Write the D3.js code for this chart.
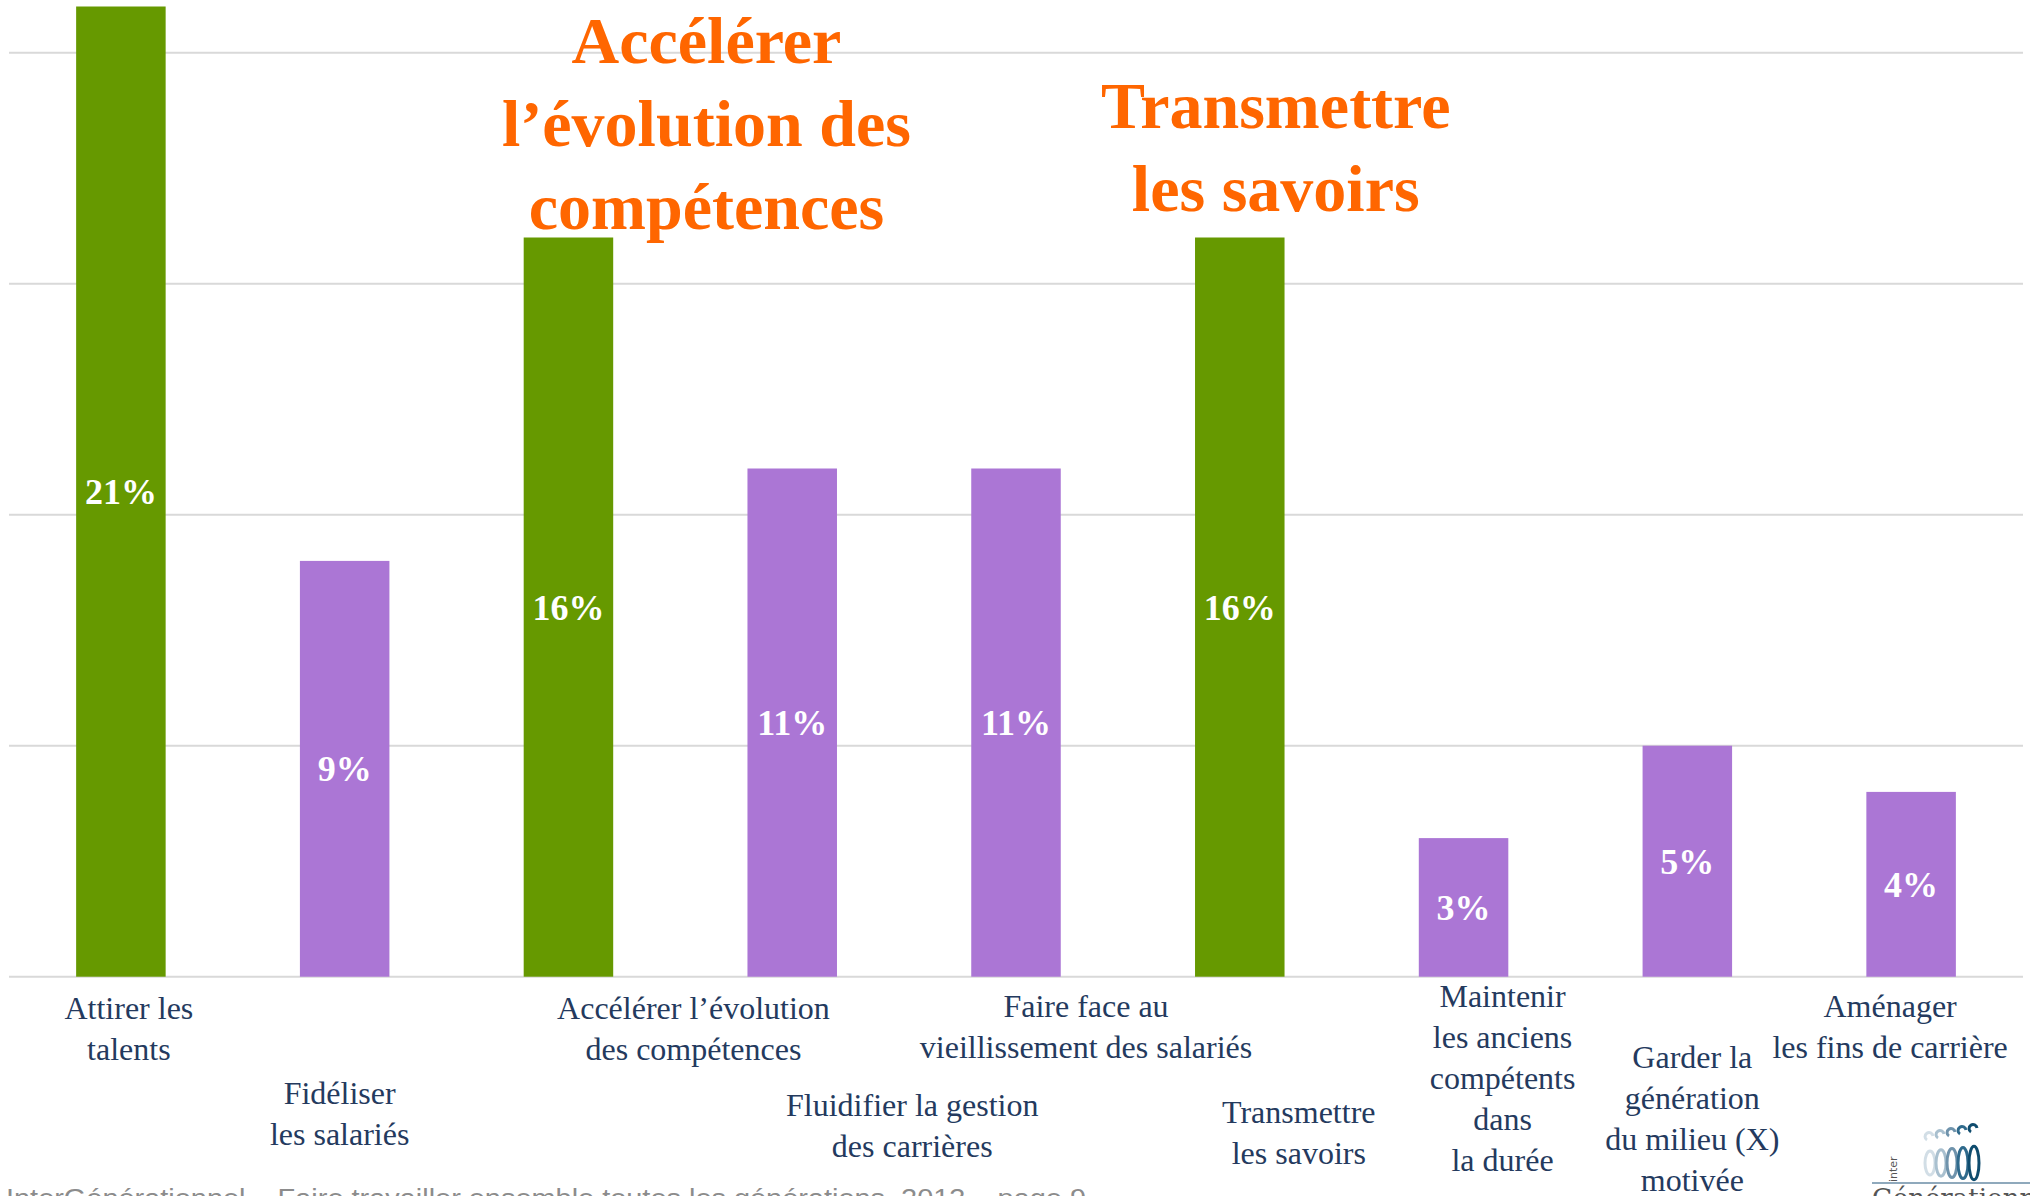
<!DOCTYPE html>
<html>
<head>
<meta charset="utf-8">
<script src="https://cdn.jsdelivr.net/npm/d3@7"></script>
<style>
  body { margin: 0; background: #fff; }
  svg { display: block; }
</style>
</head>
<body>
<div id="chart-root"></div>
<script>
// Data
const categories = [
  "Attirer les talents",
  "Fidéliser les salariés",
  "Accélérer l’évolution des compétences",
  "Fluidifier la gestion des carrières",
  "Faire face au vieillissement des salariés",
  "Transmettre les savoirs",
  "Maintenir les anciens compétents dans la durée",
  "Garder la génération du milieu (X) motivée",
  "Aménager les fins de carrière",
]
const values = [21, 9, 16, 11, 11, 16, 3, 5, 4]
const labelLines = [
  ["Attirer les", "talents"],
  ["Fidéliser", "les salariés"],
  ["Accélérer l’évolution", "des compétences"],
  ["Fluidifier la gestion", "des carrières"],
  ["Faire face au", "vieillissement des salariés"],
  ["Transmettre", "les savoirs"],
  ["Maintenir", "les anciens", "compétents", "dans", "la durée"],
  ["Garder la", "génération", "du milieu (X)", "motivée"],
  ["Aménager", "les fins de carrière"],
]
const highlighted = [
  "Attirer les talents",
  "Accélérer l’évolution des compétences",
  "Transmettre les savoirs",
]
const gridTicks = [0, 5, 10, 15, 20]
const callouts = [
  {category: "Accélérer l’évolution des compétences", lines: ["Accélérer", "l’évolution des", "compétences"]},
  {category: "Transmettre les savoirs", lines: ["Transmettre", "les savoirs"]},
]
const footerText = "InterGénérationnel – Faire travailler ensemble toutes les générations, 2013 – page 9"

// Layout of the staggered category labels (offset from bar centre, first baseline)
const labelLayout = [
  {dx: 8, y: 1019}, {dx: -5, y: 1104}, {dx: 125, y: 1019},
  {dx: 120, y: 1116}, {dx: 70, y: 1017}, {dx: 59, y: 1123},
  {dx: 39, y: 1007}, {dx: 5, y: 1068}, {dx: -21, y: 1017},
]
const calloutLayout = [{dx: 138, y: 63}, {dx: 36, y: 128}]

const width = 2030, height = 1196
const green = "#669900", purple = "#AB76D5", orange = "#FF6600", navy = "#243A5E"

const svg = d3.select("#chart-root")
  .append("svg")
    .attr("width", width)
    .attr("height", height)

// Scales
const x = d3.scaleBand()
  .domain(categories)
  .range([9, 2023])
  .paddingInner(0.6)
  .paddingOuter(0.3)

const y = d3.scaleLinear()
  .domain([0, 20])
  .range([976.7, 52.7])

// Gridlines
svg.append("g")
  .selectAll("line")
  .data(gridTicks)
  .join("line")
    .attr("x1", 9)
    .attr("x2", 2023)
    .attr("y1", d => y(d))
    .attr("y2", d => y(d))
    .attr("stroke", "#D9D9D9")
    .attr("stroke-width", 2)

// Bars
svg.append("g")
  .selectAll("rect")
  .data(categories)
  .join("rect")
    .attr("x", d => x(d))
    .attr("width", x.bandwidth())
    .attr("y", (d, i) => y(values[i]))
    .attr("height", (d, i) => y(0) - y(values[i]))
    .attr("fill", d => highlighted.includes(d) ? green : purple)

// Value labels
svg.append("g")
  .selectAll("text")
  .data(categories)
  .join("text")
    .attr("x", d => x(d) + x.bandwidth() / 2)
    .attr("y", (d, i) => (y(values[i]) + y(0)) / 2)
    .attr("dy", "0.35em")
    .attr("text-anchor", "middle")
    .attr("font-family", "Liberation Serif, serif")
    .attr("font-weight", "bold")
    .attr("font-size", 36)
    .attr("fill", "#fff")
    .text((d, i) => values[i] + "%")

// Category labels
const catLabels = svg.append("g")
  .attr("font-family", "Liberation Serif, serif")
  .attr("font-size", 32)
  .attr("fill", navy)
  .attr("text-anchor", "middle")

categories.forEach((c, i) => {
  const cx = x(c) + x.bandwidth() / 2 + labelLayout[i].dx
  catLabels.append("text")
    .selectAll("tspan")
    .data(labelLines[i])
    .join("tspan")
      .attr("x", cx)
      .attr("y", (d, j) => labelLayout[i].y + j * 41)
      .text(d => d)
})

// Orange callouts
callouts.forEach((c, i) => {
  const cx = x(c.category) + x.bandwidth() / 2 + calloutLayout[i].dx
  svg.append("text")
    .attr("font-family", "Liberation Serif, serif")
    .attr("font-weight", "bold")
    .attr("font-size", 66)
    .attr("fill", orange)
    .attr("text-anchor", "middle")
    .selectAll("tspan")
    .data(c.lines)
    .join("tspan")
      .attr("x", cx)
      .attr("y", (d, j) => calloutLayout[i].y + j * 83)
      .text(d => d)
})

// Footer
svg.append("text")
  .attr("x", 6)
  .attr("y", 1207)
  .attr("font-family", "Liberation Sans, Arial, sans-serif")
  .attr("font-size", 26)
  .attr("fill", "#8C8C8C")
  .attr("textLength", 1080)
  .attr("lengthAdjust", "spacingAndGlyphs")
  .text(footerText)

// Logo (approximation)
const logo = svg.append("g")
const loopColors = ["#D2DEE6", "#A9C0CF", "#6F93AC", "#2F6A8C", "#0F4C6E"]
loopColors.forEach((col, i) => {
  const lx = 1930 + i * 11
  logo.append("ellipse")
    .attr("cx", lx)
    .attr("cy", 1163)
    .attr("rx", 5)
    .attr("ry", 12 + i * 1.2)
    .attr("fill", "none")
    .attr("stroke", col)
    .attr("stroke-width", 3)
  logo.append("path")
    .attr("d", `M${lx - 3},${1140 - i * 2} a4,4 0 1,1 6,-4`)
    .attr("fill", "none")
    .attr("stroke", col)
    .attr("stroke-width", 3)
})
logo.append("line")
  .attr("x1", 1872).attr("x2", 2030)
  .attr("y1", 1183).attr("y2", 1183)
  .attr("stroke", "#8FA9BC")
  .attr("stroke-width", 2)
logo.append("text")
  .attr("transform", "translate(1897,1182) rotate(-90)")
  .attr("font-family", "DejaVu Sans, sans-serif")
  .attr("font-size", 11)
  .attr("fill", "#555")
  .text("inter")
logo.append("text")
  .attr("x", 1872)
  .attr("y", 1207)
  .attr("font-family", "DejaVu Serif, serif")
  .attr("font-size", 26)
  .attr("fill", "#555")
  .text("Générationnel")
</script>
</body>
</html>
